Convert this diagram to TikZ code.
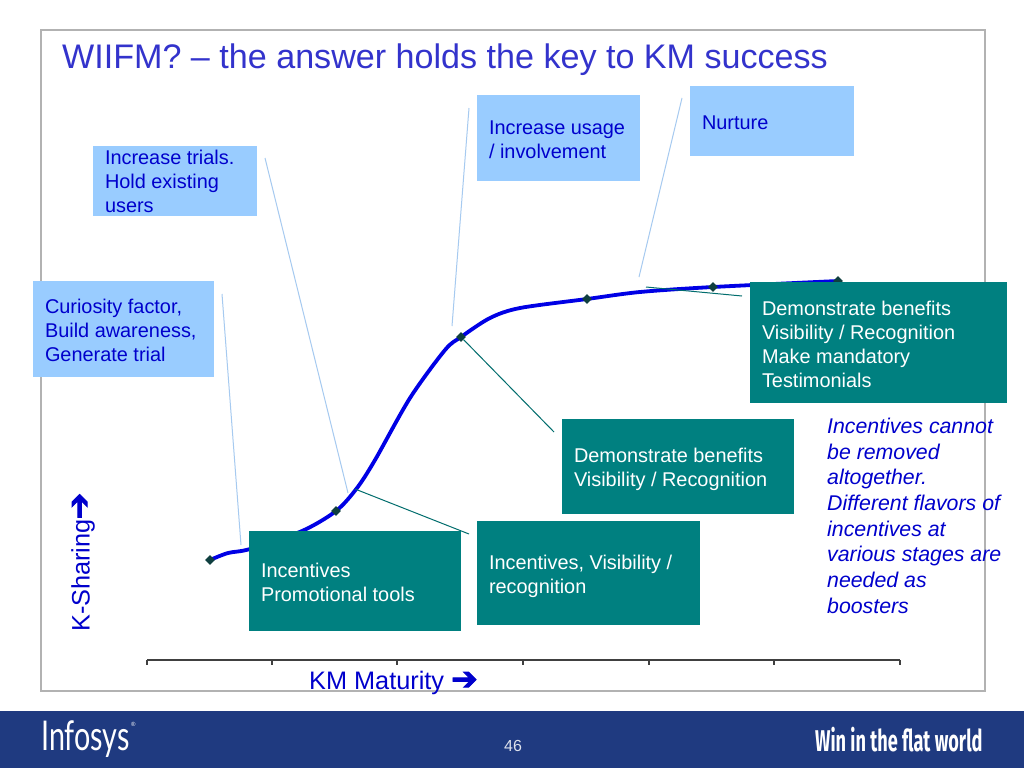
\documentclass[tikz,border=0pt]{standalone}
\usepackage{fontspec}
\setmainfont{Liberation Sans}
\newfontfamily\arrowfont[FakeBold=2.5]{DejaVu Sans}
\newfontfamily\logofont{Lato}
\newfontfamily\winfont{Fira Sans}
\usetikzlibrary{shapes.geometric}
\definecolor{tealbox}{HTML}{008080}
\definecolor{lightbox}{HTML}{99CCFF}
\definecolor{bluetext}{HTML}{0000CC}
\definecolor{titleblue}{HTML}{3333CC}
\definecolor{footer}{HTML}{1F3A80}
\definecolor{framegray}{HTML}{B2B2B2}
\definecolor{darkmark}{HTML}{0F3F3F}
\definecolor{lightline}{HTML}{A6CAF0}
\newcommand{\boxbody}[4]{\parbox[c][#2pt][t]{#1pt}{\vspace*{#3pt}\setlength{\baselineskip}{24pt}#4}}
\newcommand{\wingarrow}{{\arrowfont\scalebox{1.25}{➔}}}
\tikzset{
  x=1pt,y=-1pt,
  boxtext/.style={font=\fontsize{19.9}{24}\selectfont,inner sep=0pt,outer sep=0pt,anchor=north west,align=left},
  lightnode/.style={boxtext,fill=lightbox,text=bluetext},
  tealnode/.style={boxtext,fill=tealbox,text=white},
  marker/.style={diamond,fill=darkmark,inner sep=0pt,minimum size=10pt},
  lightlink/.style={draw=lightline,line width=1pt},
  teallink/.style={draw=tealbox!85!black,line width=1pt},
  curveline/.style={draw=blue!90!black,line width=3.8pt,line join=round},
  tick/.style={draw=black!75,line width=1.2pt},
}
\begin{document}
\begin{tikzpicture}
\useasboundingbox (0,0) rectangle (1024,768);
\fill[white] (0,0) rectangle (1024,768);
\draw[framegray,line width=2.2pt] (41,30) rectangle (985,691);
\fill[footer] (0,711) rectangle (1024,768);

\node[anchor=west,inner sep=0pt,text=titleblue,font=\fontsize{34.1}{38}\selectfont] (title) at (62,59.5) {WIIFM? – the answer holds the key to KM success};

% axis
\coordinate (ax0) at (147,660); \coordinate (ax6) at (900,660);
\draw[tick] (ax0) -- (ax6);
\foreach \tx in {147,272,397,523,649,774,900} \draw[tick] (\tx,660) -- (\tx,665);

% curve
\draw[curveline] plot[smooth,tension=0.5] coordinates {(210,560) (228,553) (250,549) (302,531) (336,511) (357,488) (375,460) (410,398) (445,350) (461,337) (490,318) (520,308) (587,299) (640,292) (713,287) (838,281)};
\node[marker] (m1) at (210,560) {};
\node[marker] (m2) at (336,511) {};
\node[marker] (m3) at (461,337) {};
\node[marker] (m4) at (587,299) {};
\node[marker] (m5) at (713,287) {};
\node[marker] (m6) at (838,281) {};

% free line ends
\coordinate (a1) at (222,294); \coordinate (a2) at (241,545);
\coordinate (b1) at (265,158); \coordinate (b2) at (348,493);
\coordinate (c1) at (469,108); \coordinate (c2) at (452,326);
\coordinate (d1) at (682,98);  \coordinate (d2) at (639,277);
\coordinate (e1) at (355,489); \coordinate (e2) at (469,534);
\coordinate (f2) at (554,432);
\coordinate (g1) at (646,287); \coordinate (g2) at (742,296);
\draw[lightlink] (a1) -- (a2);
\draw[lightlink] (b1) -- (b2);
\draw[lightlink] (c1) -- (c2);
\draw[lightlink] (d1) -- (d2);
\draw[teallink] (e1) -- (e2);
\draw[teallink] (m3) -- (f2);
\draw[teallink] (g1) -- (g2);

% light boxes
\node[lightnode,inner xsep=12pt] (trial) at (93,146) {\boxbody{140}{70}{4}{Increase trials.\\Hold existing\\users}};
\node[lightnode,inner xsep=12pt] (curio) at (33,281) {\boxbody{157}{96}{18}{Curiosity factor,\\Build awareness,\\Generate trial}};
\node[lightnode,inner xsep=12pt] (usage) at (477,95) {\boxbody{139}{86}{26}{Increase usage\\/ involvement}};
\node[lightnode,inner xsep=12pt] (nurt) at (690,86) {\boxbody{140}{70}{30}{Nurture}};

% teal boxes
\node[tealnode,inner xsep=12pt] (demo2) at (750,282) {\boxbody{233}{121}{19}{Demonstrate benefits\\Visibility / Recognition\\Make mandatory\\Testimonials}};
\node[tealnode,inner xsep=12pt] (demo1) at (562,419) {\boxbody{208}{95}{29}{Demonstrate benefits\\Visibility / Recognition}};
\node[tealnode,inner xsep=12pt] (vis) at (477,521) {\boxbody{199}{104}{34}{Incentives, Visibility /\\recognition}};
\node[tealnode,inner xsep=12pt] (promo) at (249,531) {\boxbody{188}{100}{32}{Incentives\\Promotional tools}};

% italic note
\node[anchor=north west,inner sep=0pt,text=bluetext,font=\fontsize{21.3}{25.65}\selectfont\itshape,align=left] (note) at (827,418) {Incentives cannot\\be removed\\altogether.\\Different flavors of\\incentives at\\various stages are\\needed as\\boosters};

% axis labels
\node[anchor=west,inner sep=0pt,text=bluetext,font=\fontsize{25.3}{28}\selectfont] (kmm) at (309,683) {KM Maturity \wingarrow};
\node[anchor=west,rotate=90,inner sep=0pt,text=bluetext,font=\fontsize{25.3}{28}\selectfont] (ksh) at (83,632) {K-Sharing\wingarrow};

% footer
\node[anchor=west,inner sep=0pt,text=white,font=\logofont\fontsize{41}{41}\selectfont] (logo) at (41,739) {\scalebox{0.7}[1]{Infosys}};
\node[anchor=west,inner sep=0pt,text=white,font=\fontsize{6}{6}\selectfont] (reg) at (131,724) {®};
\node[inner sep=0pt,text=white!85!footer,font=\fontsize{16}{18}\selectfont] (pg) at (513,746) {46};
\node[anchor=west,inner sep=0pt,text=white,font=\winfont\fontsize{30}{30}\selectfont] (win) at (815,740) {\scalebox{0.605}[1]{\textbf{Win in the flat world}}};
\end{tikzpicture}
\end{document}
